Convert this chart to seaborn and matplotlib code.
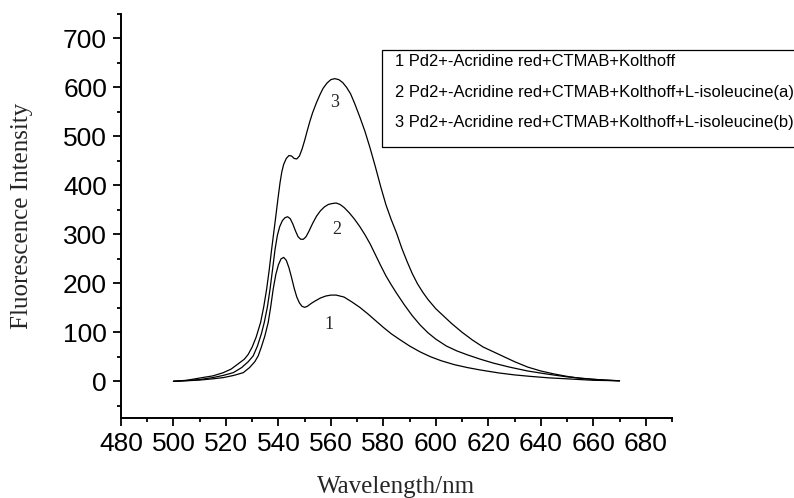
import matplotlib
matplotlib.use("Agg")
import matplotlib.pyplot as plt
from matplotlib.patches import Rectangle
from matplotlib.ticker import MultipleLocator
import seaborn as sns
import pandas as pd

# Emission spectra (wavelength in nm, fluorescence intensity)
wl_1 = [500, 505, 510, 515, 519, 523, 526.6, 529, 531, 532.3, 533.5, 534.8, 536.1,
        537, 538, 539, 540, 541, 542, 543, 544, 545, 546, 547, 548, 549, 550, 551,
        552.5, 554, 556, 558, 560, 562, 565, 568, 571, 574, 577, 580, 583, 586,
        590, 594, 598, 602, 607, 612, 617, 624, 630, 636, 643, 650, 660, 670]
int_1 = [0, 1, 2.5, 5, 7.5, 12, 17.6, 28, 40, 52, 70, 92, 120,
         150, 188, 218, 238, 250, 253, 247, 232, 212, 190, 172, 160, 153, 151, 153,
         159, 164, 170, 174, 176, 176, 172, 162, 151, 138, 124, 110, 97, 86,
         72, 60, 50, 42, 34, 28, 23, 17, 13, 10, 7, 5, 2, 1]

wl_2 = [500, 505, 510, 515, 519, 522.8, 526, 528.5, 530.4, 532, 533.5, 534.6, 535.8,
        536.8, 537.8, 538.7, 539.6, 540.5, 541.5, 542.5, 543.5, 544.5, 545.5, 546.5,
        547.5, 548.5, 549.5, 550.5, 551.5, 553, 554.5, 556, 557.5, 559, 560.5, 562,
        563.5, 565, 567, 569, 571, 573, 575, 577, 579, 581, 583, 585, 588, 591,
        594, 597, 600, 604, 608, 612, 617, 622, 628, 635, 642, 650, 660, 670]
int_2 = [0, 1.5, 3.5, 7.5, 12, 17.6, 28, 40, 52, 72, 97, 120, 152,
         188, 230, 269, 298, 316, 328, 334, 336, 332, 321, 307,
         295, 290, 290, 295, 305, 322, 337, 348, 356, 361, 363, 364,
         361, 355, 344, 331, 316, 299, 280, 258, 236, 215, 197, 180, 156, 134,
         115, 99, 86, 72, 62, 54, 45, 37, 29, 21, 15, 9, 4, 1]

wl_3 = [500, 505, 511, 515, 519, 522, 525, 527, 528.5, 530, 531.5, 533.2, 534.4,
        535.5, 536.5, 537.4, 538.2, 539, 539.8, 540.6, 541.3, 542, 543, 544, 545,
        546, 547, 548, 549, 550, 551, 552, 553, 554.5, 555.8, 557, 558.5, 560,
        561.5, 563, 564.5, 566, 567.5, 569, 571, 573, 575, 577, 579, 581, 583,
        585, 587, 589, 591, 593, 595, 597, 600, 603, 606, 610, 614, 618, 622,
        626, 630, 635, 640, 645, 650, 655, 660, 665, 670]
int_3 = [0, 2, 7.5, 11, 17.6, 25, 37, 45, 55, 70, 90, 120, 152,
         188, 228, 269, 303, 337, 372, 405, 428, 443, 455, 461, 460,
         455, 454, 460, 474, 492, 512, 531, 548, 569, 585, 598, 609, 616,
         618, 616, 610, 600, 587, 568, 540, 510, 475, 437, 397, 360, 330,
         303, 272, 245, 220, 199, 182, 167, 148, 133, 118, 100, 84, 70, 60,
         50, 40, 29, 21, 15, 10, 6, 4, 2, 1]

series_names = ["1", "2", "3"]
legend_lines = [
    "1 Pd2+-Acridine red+CTMAB+Kolthoff",
    "2 Pd2+-Acridine red+CTMAB+Kolthoff+L-isoleucine(a)",
    "3 Pd2+-Acridine red+CTMAB+Kolthoff+L-isoleucine(b)",
]
curve_label_x = [559.3, 562.3, 561.6]
curve_label_y = [116, 310, 569]

df = pd.concat([
    pd.DataFrame({"Wavelength": w, "Intensity": v, "curve": n})
    for w, v, n in zip([wl_1, wl_2, wl_3], [int_1, int_2, int_3], series_names)
], ignore_index=True)

sns.set_style("ticks")
plt.rcParams["font.family"] = ["Liberation Sans", "DejaVu Sans"]

W, H = 794, 498
fig = plt.figure(figsize=(W / 100, H / 100), dpi=100)
ax = fig.add_axes([121 / W, 1 - 418 / H, (672 - 121) / W, (418 - 14) / H])

sns.lineplot(data=df, x="Wavelength", y="Intensity", hue="curve",
             palette=["black"] * 3, linewidth=0.9, legend=False,
             sort=False, estimator=None, ax=ax)

ax.set_xlim(480, 690)
ax.set_ylim(-75, 750)
ax.xaxis.set_major_locator(MultipleLocator(20))
ax.xaxis.set_minor_locator(MultipleLocator(10))
ax.yaxis.set_major_locator(MultipleLocator(100))
ax.yaxis.set_minor_locator(MultipleLocator(50))

for side in ["top", "right"]:
    ax.spines[side].set_visible(False)
for side in ["left", "bottom"]:
    ax.spines[side].set_linewidth(1.4)
    ax.spines[side].set_color("black")

ax.tick_params(which="major", direction="out", length=6, width=1.3,
               labelsize=19, colors="black", pad=4)
ax.tick_params(which="minor", direction="out", length=3, width=1.3, colors="black")

serif = ["Liberation Serif", "DejaVu Serif"]
ax.set_xlabel("Wavelength/nm", fontsize=18, family=serif)
ax.set_ylabel("Fluorescence Intensity", fontsize=18, family=serif)
ax.xaxis.label.set_va("center")
ax.yaxis.label.set_va("center")
ax.xaxis.set_label_coords(0.5, (418 - 487) / (418 - 14))
ax.yaxis.set_label_coords((22 - 121) / (672 - 121), 0.5)

for lx, ly, name in zip(curve_label_x, curve_label_y, series_names):
    ax.text(lx, ly, name, fontsize=13, family=serif, ha="center", va="center")

# Text box describing each curve (its right side runs past the figure edge)
fig.patches.append(Rectangle((382 / W, 1 - 147 / H), (W + 6 - 382) / W, (147 - 50) / H,
                             transform=fig.transFigure, fill=False,
                             edgecolor="black", linewidth=0.9))
for i, line in enumerate(legend_lines):
    fig.text(395 / W, 1 - (62 + 30 * i) / H, line, fontsize=11.9,
             ha="left", va="center", color="black")

fig.savefig("out.png", dpi=100)
